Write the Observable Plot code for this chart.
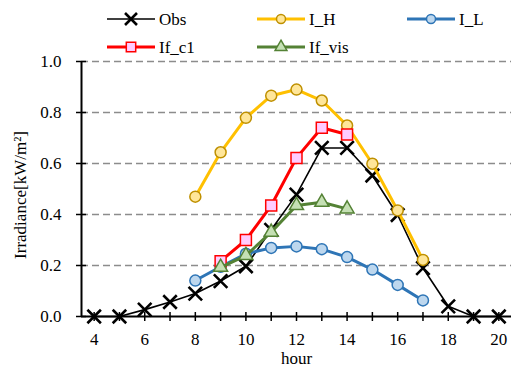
<!DOCTYPE html>
<html><head><meta charset="utf-8">
<script src="https://cdn.jsdelivr.net/npm/d3@7"></script>
<script src="https://cdn.jsdelivr.net/npm/@observablehq/plot@0.6"></script>
<style>
body{margin:0;background:#fff;font-family:"Liberation Serif",serif}
#chart{width:512px;height:367px;position:relative}
svg{display:block;overflow:visible}
</style>
</head><body><div id="chart"></div>
<script>
// ---- data ----
const obsHours = [4,5,6,7,8,9,10,11,12,13,14,15,16,17,18,19,20];
const obsValues = [0,0,0.027,0.057,0.090,0.139,0.197,0.34,0.478,0.661,0.661,0.553,0.398,0.190,0.040,0,0];
const ihHours = [8,9,10,11,12,13,14,15,16,17];
const ihValues = [0.470,0.644,0.779,0.866,0.890,0.847,0.749,0.599,0.416,0.222];
const ilHours = [8,9,10,11,12,13,14,15,16,17];
const ilValues = [0.141,0.195,0.246,0.269,0.275,0.264,0.233,0.184,0.124,0.063];
const c1Hours = [9,10,11,12,13,14];
const c1Values = [0.217,0.300,0.435,0.622,0.740,0.714];
const visHours = [9,10,11,12,13,14];
const visValues = [0.193,0.239,0.331,0.435,0.448,0.422];
const xTickLabels = [4,6,8,10,12,14,16,18,20];
const xMinorTicks = [4,5,6,7,8,9,10,11,12,13,14,15,16,17,18,19,20];
const yTicks = [0,0.2,0.4,0.6,0.8,1.0];
const yGrid = [0.2,0.4,0.6,0.8,1.0];

const series = [
  {name:"Obs", hours:obsHours, values:obsValues, line:"#000000", lw:1.6, symbol:"times", r:6.2, fill:"none", stroke:"#000000", sw:2.6, lr:5.5},
  {name:"I_H", hours:ihHours, values:ihValues, line:"#FFC000", lw:3, symbol:"circle", r:5.5, fill:"#FFE699", stroke:"#BF9000", sw:1.5, lr:4.5},
  {name:"I_L", hours:ilHours, values:ilValues, line:"#2E75B6", lw:3, symbol:"circle", r:5.5, fill:"#BDD7EE", stroke:"#2E75B6", sw:1.5, lr:4.5},
  {name:"If_c1", hours:c1Hours, values:c1Values, line:"#FF0000", lw:3, symbol:"square", r:6.2, fill:"#FFCCFF", stroke:"#FF0000", sw:1.5, lr:5.3},
  {name:"If_vis", hours:visHours, values:visValues, line:"#548235", lw:3, symbol:"triangle", r:5.2, fill:"#C5E0B4", stroke:"#548235", sw:1.5, lr:4.4}
];
const rowsOf = s => s.hours.map((h,i)=>({hour:h, value:s.values[i]}));

const font = "Liberation Serif";
const chart = document.getElementById("chart");

// ---- legend ----
const legendH = 58;
const leg = d3.create("svg").attr("width",512).attr("height",legendH);
const legPos = [[107,19],[257,19],[407,19],[107,47],[257,47]];
const symMap = {times:d3.symbolTimes, circle:d3.symbolCircle, square:d3.symbolSquare, triangle:d3.symbolTriangle};
series.forEach((s,i)=>{
  const [x,y] = legPos[i];
  const g = leg.append("g").attr("transform",`translate(${x},${y})`);
  g.append("line").attr("x1",0).attr("x2",48).attr("y1",0).attr("y2",0)
    .attr("stroke",s.line).attr("stroke-width",s.lw);
  g.append("path").attr("transform","translate(24,0)")
    .attr("d", d3.symbol(symMap[s.symbol], s.lr*s.lr*Math.PI)())
    .attr("fill", s.fill).attr("stroke", s.stroke).attr("stroke-width", s.sw);
  g.append("text").attr("x",52).attr("y",0).attr("dy","0.35em")
    .attr("font-family",font).attr("font-size",17).attr("fill","#000").text(s.name);
});
chart.appendChild(leg.node());

// ---- plot ----
const marks = [
  Plot.ruleY(yGrid, {y:d=>d, stroke:"#8c8c8c", strokeWidth:1.5, strokeDasharray:"7,4"}),
  Plot.ruleX([3.5], {stroke:"#000", strokeWidth:2}),
  Plot.ruleY([0], {stroke:"#000", strokeWidth:2}),
  Plot.axisX({ticks:xMinorTicks, tickSize:9, dy:-4, tickFormat:()=>"", stroke:"#000", strokeWidth:1.5, label:null}),
  Plot.axisY({ticks:yTicks, tickSize:10, dx:5, tickFormat:()=>"", stroke:"#000", strokeWidth:1.5, label:null}),
  Plot.text(xTickLabels, {x:d=>d, frameAnchor:"bottom", dy:23, text:d=>String(d), fontSize:17, fontFamily:font, fill:"#000", lineAnchor:"middle"}),
  Plot.text(yTicks, {y:d=>d, frameAnchor:"left", dx:-20, textAnchor:"end", text:d=>d.toFixed(1), fontSize:17, fontFamily:font, fill:"#000", lineAnchor:"middle"}),
  Plot.text(["hour"], {frameAnchor:"bottom", dy:42, text:d=>d, fontSize:17, fontFamily:font, fill:"#000", lineAnchor:"middle"}),
  Plot.text(["Irradiance[kW/m²]"], {frameAnchor:"left", dx:-61, dy:6, rotate:-90, textAnchor:"middle", lineAnchor:"middle", text:d=>d, fontSize:17, fontFamily:font, fill:"#000"})
];
series.forEach(s=>{
  const data = rowsOf(s);
  marks.push(Plot.line(data, {x:"hour", y:"value", stroke:s.line, strokeWidth:s.lw}));
  marks.push(Plot.dot(data, {x:"hour", y:"value", symbol:()=>s.symbol, r:s.r, fill:s.fill, stroke:s.stroke, strokeWidth:s.sw}));
});

const plot = Plot.plot({
  width:512, height:367-legendH,
  marginLeft:81, marginRight:1, marginTop:3, marginBottom:51,
  style:{fontFamily:font, fontSize:"17px", color:"#000", background:"#fff", overflow:"visible"},
  x:{domain:[3.5,20.5], axis:null},
  y:{domain:[0,1], axis:null},
  symbol:{type:"identity"},
  marks
});
chart.appendChild(plot);
</script>
</body></html>
